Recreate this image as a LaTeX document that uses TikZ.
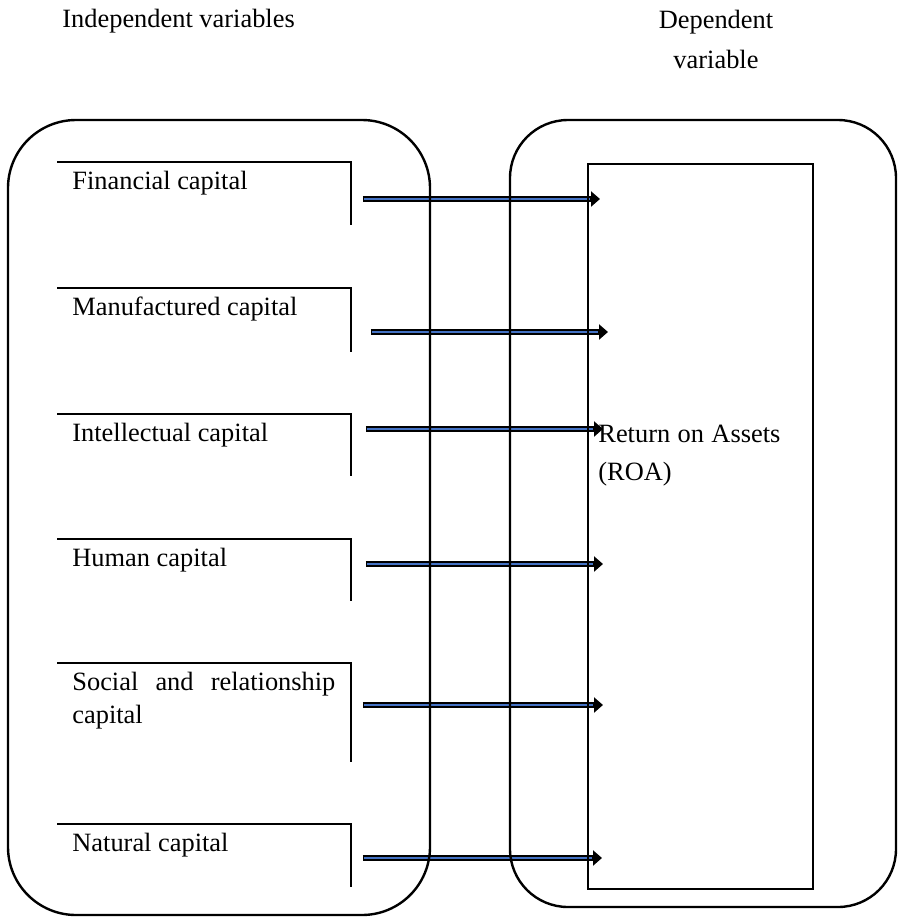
\documentclass[tikz,border=0pt]{standalone}
\usepackage{fontspec}
\setmainfont{Liberation Serif}
\usetikzlibrary{arrows.meta, backgrounds}
\definecolor{flowblue}{RGB}{68, 114, 196}
\tikzset{
  frame/.style={rounded corners=#1, draw, line width=1.2pt},
  openbox/.style={line width=1.2pt},
  capbox/.style={anchor=north west, inner xsep=7.5pt, inner ysep=5pt,
                 text height=8.5pt, text width=131.5pt, align=justify,
                 font=\fontsize{13.2}{16.5}\selectfont},
  hdr/.style={font=\fontsize{13.2}{20}\selectfont, inner sep=0pt},
  flowout/.style={line width=3pt, -{Triangle[length=4.5pt, width=7.5pt]}},
  flowin/.style={line width=1.4pt, draw=flowblue, shorten <=0.8pt, shorten >=5pt},
}

\begin{document}
\begin{tikzpicture}[x=0.5pt, y=-0.5pt]
  \useasboundingbox (0,0) rectangle (898,917);
  % headings
  \node[hdr, anchor=base west] (indep) at (62,27) {Independent variables};
  \node[hdr, anchor=north, align=center] (dep) at (716,10) {Dependent\\variable};
  % outer frames
  \draw[frame=34pt] (8,120) rectangle (430,915);
  \draw[frame=29pt] (510,120) rectangle (896,907);
  % dependent variable
  \node[draw, line width=1.2pt, anchor=north west, inner sep=0pt,
        minimum width=112.5pt, minimum height=362.5pt] (roa) at (587,163) {};
  \node[capbox, text width=91pt, inner xsep=5.5pt,
        font=\fontsize{13.2}{19}\selectfont] (roatxt) at (587,415)
        {Return on Assets\linebreak (ROA)};
  % independent variables
  \foreach \nm/\y/\h/\txt in {fin/162/63/Financial capital,
      man/288/64/Manufactured capital, int/414/62/Intellectual capital,
      hum/539/62/Human capital,
      soc/663/99/Social and relationship\linebreak capital,
      nat/824/63/Natural capital} {
    \node[capbox] (\nm) at (57,\y) {\txt};
    \draw[openbox] (\nm.north west) -- (\nm.north east) -- ++(0,\h);
  }
  % arrows
  \begin{scope}[on background layer]
    \foreach \nm/\y/\dx/\ex in {fin/199/12/13, man/332/20/21, int/429/15/16,
        hum/564/15/16, soc/705/12/16, nat/858/12/15} {
      \draw[flowout] ([xshift=\dx*0.5pt]\nm.east |- 0,\y)
        -- ([xshift=\ex*0.5pt]roa.west |- 0,\y);
      \draw[flowin] ([xshift=\dx*0.5pt]\nm.east |- 0,\y)
        -- ([xshift=\ex*0.5pt]roa.west |- 0,\y);
    }
  \end{scope}
\end{tikzpicture}
\end{document}
